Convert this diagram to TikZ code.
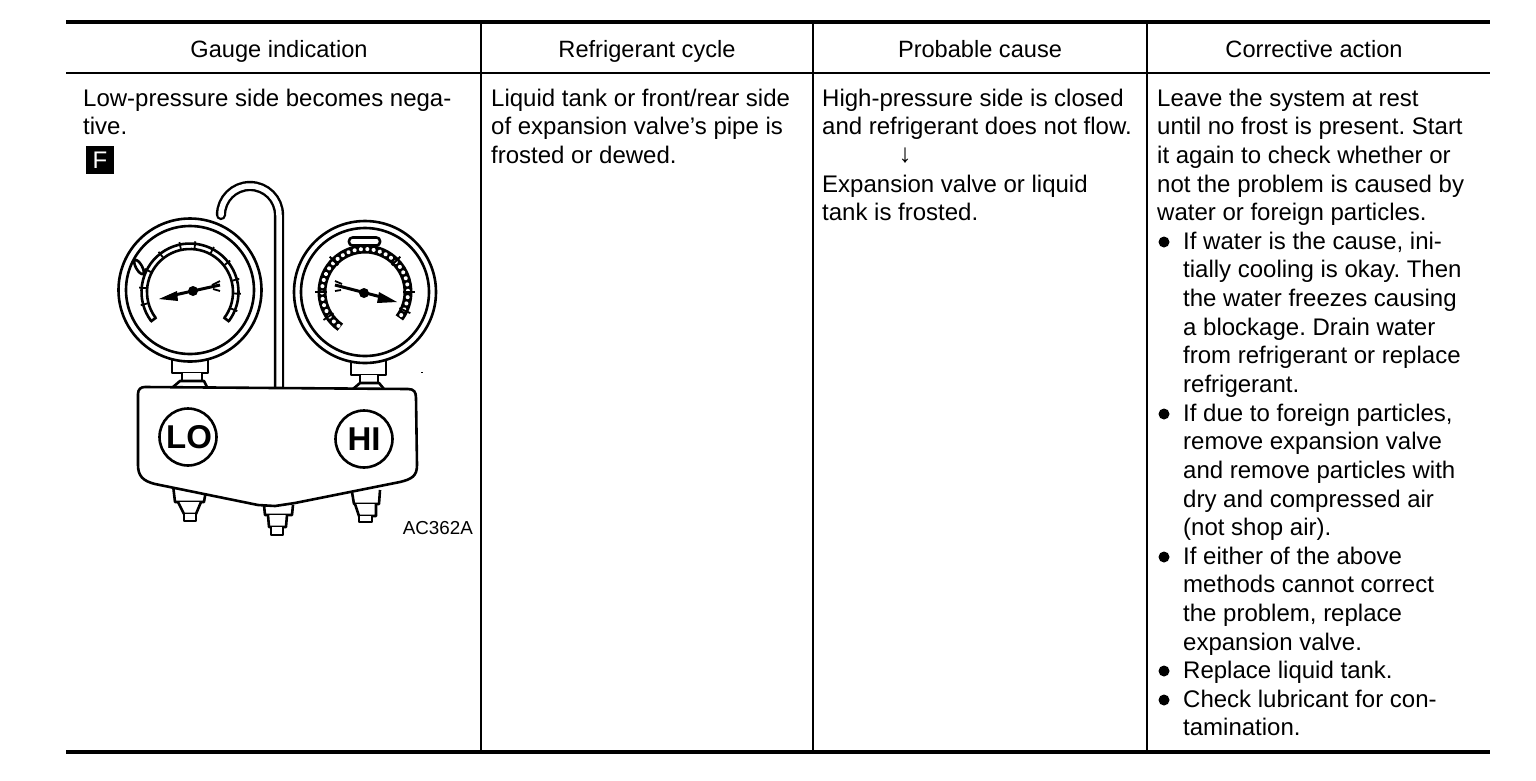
\documentclass[tikz,border=0pt]{standalone}
\usepackage{fontspec}
\setmainfont{Liberation Sans}
\AtBeginDocument{\frenchspacing}
\begin{document}
\begin{tikzpicture}[x=1pt,y=-1pt,
  txt/.style={anchor=north west,inner sep=0pt,align=left,font=\fontsize{24}{28.64}\selectfont},
  head/.style={anchor=base,inner sep=0pt,font=\fontsize{23.6}{28}\selectfont},
  bul/.style={circle,fill=black,inner sep=0pt,minimum size=11pt},
  rulethick/.style={line width=4pt},
  rulethin/.style={line width=2pt},
  ink/.style={line width=2.6pt,line join=round},
  inkfill/.style={ink,fill=white},
  lab/.style={circle,draw=black,line width=2.6pt,inner sep=0pt,minimum size=57pt,font=\bfseries\fontsize{33}{33}\selectfont}]
\useasboundingbox (0,0) rectangle (1536,780);
% table rules
\coordinate (tl) at (66,22); \coordinate (tr) at (1490,22);
\coordinate (hl) at (66,73); \coordinate (hr) at (1490,73);
\coordinate (bl) at (66,752); \coordinate (br) at (1490,752);
\draw[rulethick] (tl)--(tr);
\draw[rulethin] (hl)--(hr);
\draw[rulethick] (bl)--(br);
\foreach \x in {481,813,1147} \draw[rulethin] (\x,22)--(\x,752);
% headers
\node[head] (h1) at (279,57) {Gauge indication};
\node[head] (h2) at (647,57) {Refrigerant cycle};
\node[head] (h3) at (980,57) {Probable cause};
\node[head] (h4) at (1314,57) {Corrective action};
% texts
\node[txt] (c1) at (83,86) {\strut Low-pressure side becomes nega-\\\strut tive.};
\node[txt] (c2) at (491,86) {\strut Liquid tank or front/rear side\\\strut of expansion valve’s pipe is\\\strut frosted or dewed.};
\node[txt] (c3) at (822,86) {\strut High-pressure side is closed\\\strut and refrigerant does not flow.};
\node[inner sep=0pt,font=\fontsize{26}{28}\selectfont] (arr) at (905,156) {↓};
\node[txt] (c3b) at (822,172) {\strut Expansion valve or liquid\\\strut tank is frosted.};
\node[txt] (c4) at (1157,86) {\strut Leave the system at rest\\\strut until no frost is present. Start\\\strut it again to check whether or\\\strut not the problem is caused by\\\strut water or foreign particles.};
\node[txt] (l1) at (1183,229) {\strut If water is the cause, ini-\\\strut tially cooling is okay. Then\\\strut the water freezes causing\\\strut a blockage. Drain water\\\strut from refrigerant or replace\\\strut refrigerant.};
\node[txt] (l2) at (1183,401) {\strut If due to foreign particles,\\\strut remove expansion valve\\\strut and remove particles with\\\strut dry and compressed air\\\strut (not shop air).};
\node[txt] (l3) at (1183,544) {\strut If either of the above\\\strut methods cannot correct\\\strut the problem, replace\\\strut expansion valve.};
\node[txt] (l4) at (1183,658) {\strut Replace liquid tank.};
\node[txt] (l5) at (1183,687) {\strut Check lubricant for con-\\\strut tamination.};
\node[bul] (b1) at (1164,242) {};
\node[bul] (b2) at (1164,414) {};
\node[bul] (b3) at (1164,557) {};
\node[bul] (b4) at (1164,671) {};
\node[bul] (b5) at (1164,700) {};
% F badge
\node[fill=black,text=white,inner sep=0pt,minimum size=28pt,font=\fontsize{24}{24}\selectfont] (fbox) at (100,160) {F};
% hook pipe
\draw[line width=2.4pt,double=white,double distance=5.5pt,line cap=round] (279,392)--(279,215) arc[start angle=0,end angle=-180,radius=29];
% necks and fittings above body
\draw[inkfill] (172,355)--(172,373)--(208,373)--(208,355);
\draw[inkfill] (182,373)--(182,382)--(202,382)--(202,373);
\draw[inkfill] (173,387)--(180,381)--(204,381)--(207,387);
\draw[inkfill] (351,360)--(351,375)--(386,375)--(386,360);
\draw[inkfill] (360,375)--(360,384)--(378,384)--(378,375);
\draw[inkfill] (353,389)--(360,383)--(379,383)--(384,389);
% bottom fittings
\draw[inkfill] (173,485)--(175,502)--(204,502)--(206,490);
\draw[inkfill] (178,502)--(184,514)--(196,514)--(201,502);
\draw[inkfill] (184,514)--(184,521)--(196,521)--(196,514);
\draw[inkfill] (264,505)--(265,515)--(292,515)--(293,505);
\draw[inkfill] (268,515)--(269,527)--(286,527)--(287,515);
\draw[inkfill] (271,527)--(271,535)--(283,535)--(283,527);
\draw[inkfill] (352,492)--(354,504)--(379,504)--(380,490);
\draw[inkfill] (355,504)--(359,516)--(376,516)--(376,504);
\draw[inkfill] (359,516)--(359,522)--(372,522)--(372,516);
% body
\draw[inkfill] (145,387) -- (408,389) .. controls (414,389) and (416,392) .. (416,398)
 -- (417,465) .. controls (417,476) and (412,479) .. (400,482) -- (295,503) -- (275,506) -- (258,505)
 -- (155,484) .. controls (143,481) and (138,476) .. (138,465) -- (138,394)
 .. controls (138,389) and (141,387) .. (145,387) -- cycle;
\node[lab] (lo) at (188,437) {\kern2pt LO};
\node[lab] (hi) at (364,439) {HI};
% left gauge
\draw[inkfill] (190,290) circle[radius=71.5];
\draw[ink] (190,290) circle[radius=64];
\draw[ink] (190,292)+(143:43) arc[start angle=143,end angle=397,radius=43];
\draw[ink] (190,292)+(143:48.5) arc[start angle=143,end angle=397,radius=48.5];
\draw[ink] (190,292)+(143:42) -- +(143:49.5);
\draw[ink] (190,292)+(397:42) -- +(397:49.5);
\foreach \a in {165,185,207,232,258,276,298,322,345,362,382}
  \draw[line width=1.8pt] (190,292)+(\a:44)--+(\a:51);
\draw[ink,fill=white,rotate around={-60:(139,267)}] (139,267) ellipse[x radius=8,y radius=3];
% left needle
\coordinate (ln1) at (159,299); \coordinate (ln2) at (220,285);
\draw[line width=3pt] (170,296)--(ln2);
\fill (ln1)--(177,291)--(178,301)--cycle;
\fill (193,291) circle[radius=5];
\draw[line width=1.8pt] (212,285)--(220,281) (213,289)--(220,291);
% right gauge
\draw[inkfill] (365,292) circle[radius=71];
\draw[ink] (365,292) circle[radius=64];
\draw[ink,rounded corners=3.5pt] (349,237.5) rectangle (380,245.5);
\draw[line width=9pt] (365,292)+(125:43) arc[start angle=125,end angle=397,radius=43];
\draw[line width=4pt,white,line cap=round,dash pattern=on 0.1pt off 6.3pt] (365,292)+(128:43) arc[start angle=128,end angle=394,radius=43];
\foreach \a in {146,180,225,315,360,385}
  \draw[line width=1.8pt] (365,292)+(\a:38)--+(\a:50);
% right needle
\coordinate (rn1) at (397,302); \coordinate (rn2) at (335,285);
\draw[line width=3pt] (rn2)--(385,298);
\fill (rn1)--(379,292)--(377,303)--cycle;
\fill (364,293) circle[radius=5];
\draw[line width=1.8pt] (342,284)--(335,281) (341,290)--(335,291);
\fill (421,372) rectangle (423,373);
% code
\node[anchor=base east,inner sep=0pt,font=\fontsize{18.8}{20}\selectfont] (code) at (473,534) {AC362A};
\end{tikzpicture}
\end{document}
